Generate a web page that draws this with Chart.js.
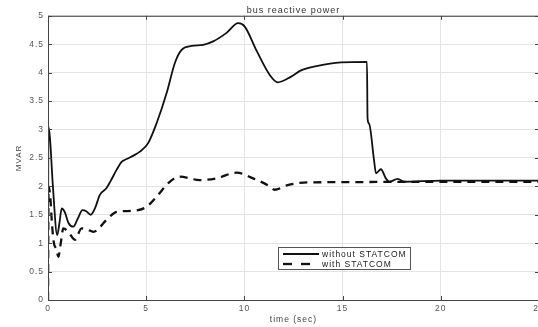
<!DOCTYPE html>
<html><head><meta charset="utf-8">
<script src="https://cdn.jsdelivr.net/npm/chart.js@4/dist/chart.umd.min.js"></script>
<style>
html,body{margin:0;padding:0;background:#fff;overflow:hidden;}
#wrap{width:538px;height:327px;overflow:hidden;position:relative;}
canvas{display:block;}
</style></head><body>
<div id="wrap"><canvas id="c" width="550" height="327"></canvas></div>
<script>
const chartTitle = "bus reactive power";
const xTitle = "time (sec)";
const yTitle = "MVAR";
const seriesNames = ["without STATCOM", "with STATCOM"];
const xTicks = [0, 5, 10, 15, 20, 25];
const yTicks = [0, 0.5, 1, 1.5, 2, 2.5, 3, 3.5, 4, 4.5, 5];

const tWithout = [0, 0.02, 0.1, 0.25, 0.47, 0.58, 0.7, 0.85, 1.05, 1.29, 1.5, 1.76, 1.95, 2.17, 2.4, 2.64, 2.98, 3.2, 3.49, 3.75, 4.0, 4.35, 4.68, 5.1, 5.53, 6.04, 6.46, 6.8, 7.31, 7.9, 8.41, 9.09, 9.68, 10.02, 10.6, 11.29, 11.7, 12.38, 12.88, 13.73, 14.92, 16.24, 16.27, 16.35, 16.6, 16.7, 16.95, 17.2, 17.38, 17.8, 18.14, 20, 25];
const vWithout = [0, 3.05, 2.85, 2.0, 1.14, 1.35, 1.61, 1.55, 1.35, 1.29, 1.42, 1.58, 1.56, 1.50, 1.62, 1.85, 1.97, 2.1, 2.29, 2.43, 2.48, 2.54, 2.61, 2.76, 3.11, 3.64, 4.17, 4.40, 4.47, 4.49, 4.55, 4.70, 4.87, 4.81, 4.40, 3.96, 3.83, 3.93, 4.04, 4.12, 4.18, 4.19, 3.2, 3.1, 2.46, 2.23, 2.30, 2.14, 2.08, 2.13, 2.08, 2.1, 2.1];

const tWith = [0, 0.03, 0.12, 0.2, 0.3, 0.42, 0.53, 0.65, 0.78, 1.07, 1.37, 1.71, 2.0, 2.31, 2.98, 3.49, 4.34, 5.02, 5.53, 6.2, 6.71, 7.73, 8.58, 9.6, 10.44, 11.29, 11.53, 12.2, 13.22, 25];
const vWith = [0, 2.0, 1.8, 1.35, 1.0, 0.9, 0.76, 1.0, 1.26, 1.18, 1.06, 1.26, 1.24, 1.20, 1.41, 1.55, 1.57, 1.64, 1.82, 2.08, 2.17, 2.11, 2.14, 2.24, 2.14, 2.0, 1.94, 2.02, 2.07, 2.08];

const pts = (t, v) => t.map((x, i) => ({x, y: v[i]}));
const FONT = "Liberation Sans, Arial, sans-serif";

const spacingPlugin = {
  id: 'spacing',
  beforeLayout(chart) { chart.ctx.letterSpacing = '1px'; },
  beforeDraw(chart) { chart.ctx.letterSpacing = '1px'; }
};

const framePlugin = {
  id: 'frame',
  afterDraw(chart) {
    const {ctx, chartArea: a, scales} = chart;
    ctx.save();
    ctx.strokeStyle = '#444';
    ctx.lineWidth = 1;
    ctx.strokeRect(a.left + 0.5, a.top + 0.5, a.right - a.left, a.bottom - a.top);
    ctx.beginPath();
    xTicks.forEach(v => {
      const x = Math.round(scales.x.getPixelForValue(v)) + 0.5;
      ctx.moveTo(x, a.bottom); ctx.lineTo(x, a.bottom - 4);
      ctx.moveTo(x, a.top); ctx.lineTo(x, a.top + 4);
    });
    yTicks.forEach(v => {
      const y = Math.round(scales.y.getPixelForValue(v)) + 0.5;
      ctx.moveTo(a.left, y); ctx.lineTo(a.left + 4, y);
      ctx.moveTo(a.right, y); ctx.lineTo(a.right - 4, y);
    });
    ctx.stroke();
    // legend box
    const lx = 278, ly = 247, lw = 132, lh = 22;
    ctx.fillStyle = '#fff';
    ctx.fillRect(lx, ly, lw, lh);
    ctx.strokeStyle = '#555';
    ctx.strokeRect(lx + 0.5, ly + 0.5, lw, lh);
    chart.data.datasets.forEach((ds, i) => {
      const y = ly + 7 + i * 10;
      ctx.beginPath();
      ctx.strokeStyle = ds.borderColor;
      ctx.lineWidth = ds.borderWidth;
      ctx.setLineDash(i === 1 ? [9, 9] : []);
      ctx.moveTo(lx + 5, y); ctx.lineTo(lx + 41, y);
      ctx.stroke();
      ctx.setLineDash([]);
      ctx.fillStyle = '#222';
      ctx.font = '8.5px ' + FONT;
      ctx.letterSpacing = '1px';
      ctx.textBaseline = 'middle';
      ctx.fillText(ds.label, lx + 44, y + 0.5);
    });
    ctx.restore();
  }
};

new Chart(document.getElementById('c'), {
  type: 'line',
  data: {
    datasets: [
      {label: seriesNames[0], data: pts(tWithout, vWithout), borderColor: '#111', borderWidth: 1.8, pointRadius: 0, cubicInterpolationMode: 'monotone', fill: false},
      {label: seriesNames[1], data: pts(tWith, vWith), borderColor: '#111', borderWidth: 2.3, borderDash: [8, 6], pointRadius: 0, cubicInterpolationMode: 'monotone', fill: false}
    ]
  },
  options: {
    responsive: false,
    animation: false,
    layout: {padding: {left: 0, right: 11, top: 0, bottom: 0}},
    plugins: {
      legend: {display: false},
      tooltip: {enabled: false},
      title: {display: true, fullSize: false, text: chartTitle, color: '#333', font: {family: FONT, size: 9, weight: 'normal'}, padding: {top: 5, bottom: 0}}
    },
    scales: {
      x: {
        type: 'linear', min: 0, max: 25,
        afterBuildTicks: s => { s.ticks = xTicks.map(v => ({value: v})); },
        afterFit: s => { s.height = 27; },
        grid: {color: '#e4e4e4', drawTicks: false},
        border: {display: false},
        ticks: {color: '#555', font: {family: FONT, size: 8.5}, padding: 4, maxRotation: 0, callback: v => String(v)},
        title: {display: true, text: xTitle, color: '#444', font: {family: FONT, size: 8.5}, padding: {top: 0, bottom: 2}}
      },
      y: {
        type: 'linear', min: 0, max: 5,
        afterBuildTicks: s => { s.ticks = yTicks.map(v => ({value: v})); },
        afterFit: s => { s.width = 48; },
        grid: {color: '#e4e4e4', drawTicks: false},
        border: {display: false},
        ticks: {color: '#555', font: {family: FONT, size: 8.5}, padding: 4, callback: v => String(v)},
        title: {display: true, text: yTitle, color: '#444', font: {family: FONT, size: 8}, padding: {top: 14, bottom: 0}}
      }
    }
  },
  plugins: [spacingPlugin, framePlugin]
});
</script>
</body></html>
